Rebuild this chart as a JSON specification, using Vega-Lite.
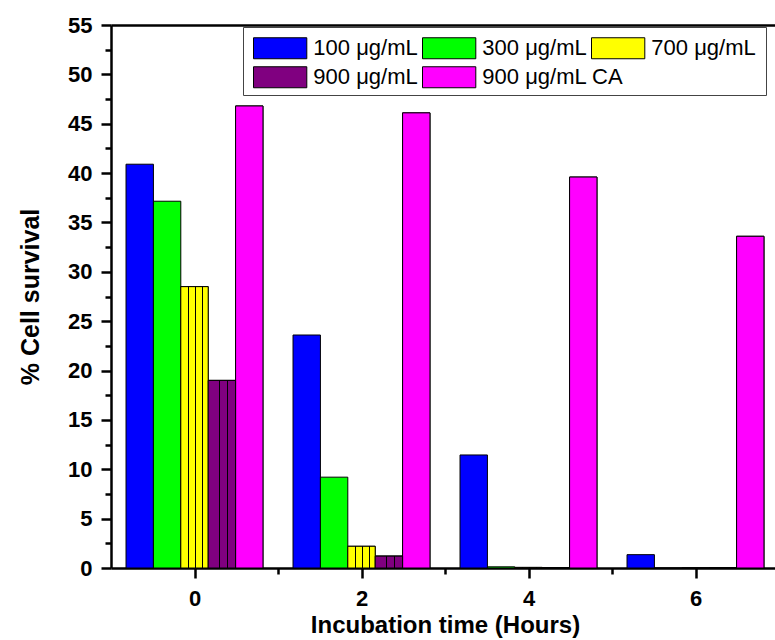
{
  "$schema": "https://vega.github.io/schema/vega-lite/v6.json",
  "width": 664,
  "height": 543,
  "autosize": {"type": "none"},
  "padding": {"left": 111, "top": 25, "right": 0, "bottom": 72},
  "background": "white",
  "config": {"view": {"stroke": null}, "font": "Liberation Sans"},
  "data": {
    "values": [
      {"time": 0, "conc": "100 μg/mL", "value": 40.9},
      {"time": 0, "conc": "300 μg/mL", "value": 37.15},
      {"time": 0, "conc": "700 μg/mL", "value": 28.5},
      {"time": 0, "conc": "900 μg/mL", "value": 19.0},
      {"time": 0, "conc": "900 μg/mL CA", "value": 46.8},
      {"time": 2, "conc": "100 μg/mL", "value": 23.6},
      {"time": 2, "conc": "300 μg/mL", "value": 9.2},
      {"time": 2, "conc": "700 μg/mL", "value": 2.2},
      {"time": 2, "conc": "900 μg/mL", "value": 1.2},
      {"time": 2, "conc": "900 μg/mL CA", "value": 46.1},
      {"time": 4, "conc": "100 μg/mL", "value": 11.45},
      {"time": 4, "conc": "300 μg/mL", "value": 0.12},
      {"time": 4, "conc": "700 μg/mL", "value": 0.06},
      {"time": 4, "conc": "900 μg/mL", "value": 0.0},
      {"time": 4, "conc": "900 μg/mL CA", "value": 39.6},
      {"time": 6, "conc": "100 μg/mL", "value": 1.35},
      {"time": 6, "conc": "300 μg/mL", "value": 0.0},
      {"time": 6, "conc": "700 μg/mL", "value": 0.0},
      {"time": 6, "conc": "900 μg/mL", "value": 0.0},
      {"time": 6, "conc": "900 μg/mL CA", "value": 33.6}
    ]
  },
  "layer": [
    {
      "encoding": {
        "x": {
          "field": "time",
          "type": "ordinal",
          "scale": {"range": [0, 668], "paddingInner": 0.18, "paddingOuter": 0.09},
          "axis": {"orient": "top", "labels": false, "ticks": false, "title": null, "domainColor": "black", "domainWidth": 2.5}
        },
        "xOffset": {
          "field": "conc",
          "type": "nominal",
          "scale": {"domain": ["100 μg/mL", "300 μg/mL", "700 μg/mL", "900 μg/mL", "900 μg/mL CA"], "paddingInner": 0, "paddingOuter": 0}
        },
        "y": {
          "field": "value",
          "type": "quantitative",
          "scale": {"domain": [0, 55], "nice": false},
          "axis": {
            "title": "% Cell survival",
            "titleFont": "Liberation Sans",
            "titleFontSize": 25,
            "titleFontWeight": "bold",
            "titleColor": "black",
            "titlePadding": 24,
            "grid": false,
            "values": [0, 2.5, 5, 7.5, 10, 12.5, 15, 17.5, 20, 22.5, 25, 27.5, 30, 32.5, 35, 37.5, 40, 42.5, 45, 47.5, 50, 52.5, 55],
            "labelExpr": "datum.value % 5 === 0 ? datum.label : ''",
            "labelFont": "Liberation Sans",
            "labelFontSize": 22,
            "labelFontWeight": "bold",
            "labelColor": "black",
            "labelPadding": 9,
            "labelFlush": false,
            "labelOverlap": false,
            "domainColor": "black",
            "domainWidth": 2.5,
            "tickColor": "black",
            "tickWidth": 2.5,
            "tickSize": {"condition": {"test": "datum.value % 5 === 0", "value": 10}, "value": 6}
          }
        }
      },
      "layer": [
        {
          "mark": {"type": "bar", "stroke": "black", "strokeWidth": 1, "opacity": 1},
          "encoding": {
            "color": {
              "field": "conc",
              "type": "nominal",
              "scale": {
                "domain": ["100 μg/mL", "300 μg/mL", "700 μg/mL", "900 μg/mL", "900 μg/mL CA"],
                "range": ["#0000FF", "#00FF00", "#FFFF00", "#800080", "#FF00FF"]
              },
              "legend": {
                "orient": "none",
                "legendX": 132,
                "legendY": 2,
                "values": ["100 μg/mL", "300 μg/mL", "700 μg/mL"],
                "title": " ",
                "titleOrient": "bottom",
                "titleFontSize": 22,
                "titlePadding": 3,
                "columns": 3,
                "direction": "horizontal",
                "symbolType": "M-2.538,-1H2.538V1H-2.538Z",
                "symbolSize": 441,
                "symbolOffset": 16.15,
                "symbolStrokeColor": "black",
                "symbolStrokeWidth": 1,
                "symbolOpacity": 1,
                "labelFont": "Liberation Sans",
                "labelFontSize": 22,
                "labelColor": "black",
                "labelLimit": 400,
                "labelOffset": 22.2,
                "columnPadding": 2,
                "padding": 10,
                "strokeColor": "#444444"
              }
            }
          }
        },
        {
          "transform": [{"filter": {"field": "conc", "oneOf": ["900 μg/mL", "900 μg/mL CA"]}}],
          "mark": {"type": "bar", "stroke": "black", "strokeWidth": 1, "opacity": 1},
          "encoding": {
            "fill": {
              "field": "conc",
              "type": "nominal",
              "scale": {"domain": ["900 μg/mL", "900 μg/mL CA"], "range": ["#800080", "#FF00FF"]},
              "legend": {
                "orient": "none",
                "legendX": 142,
                "legendY": 41,
                "title": null,
                "columns": 2,
                "direction": "horizontal",
                "symbolType": "M-2.538,-1H2.538V1H-2.538Z",
                "symbolSize": 441,
                "symbolOffset": 16.15,
                "symbolStrokeColor": "black",
                "symbolStrokeWidth": 1,
                "symbolOpacity": 1,
                "labelFont": "Liberation Sans",
                "labelFontSize": 22,
                "labelColor": "black",
                "labelLimit": 400,
                "labelOffset": 22.2,
                "columnPadding": 2,
                "padding": 0
              }
            }
          }
        },
        {
          "transform": [{"filter": {"field": "conc", "equal": "700 μg/mL"}}],
          "mark": {
            "type": "bar",
            "stroke": "black",
            "strokeWidth": 1,
            "fill": {
              "gradient": "linear", "x1": 0, "y1": 0, "x2": 1, "y2": 0,
              "stops": [
                {"offset": 0, "color": "#FFFF00"},
                {"offset": 0.255, "color": "#FFFF00"},
                {"offset": 0.255, "color": "#000000"},
                {"offset": 0.29, "color": "#000000"},
                {"offset": 0.29, "color": "#FFFF00"},
                {"offset": 0.515, "color": "#FFFF00"},
                {"offset": 0.515, "color": "#000000"},
                {"offset": 0.55, "color": "#000000"},
                {"offset": 0.55, "color": "#FFFF00"},
                {"offset": 0.775, "color": "#FFFF00"},
                {"offset": 0.775, "color": "#000000"},
                {"offset": 0.81, "color": "#000000"},
                {"offset": 0.81, "color": "#FFFF00"},
                {"offset": 1, "color": "#FFFF00"}
              ]
            }
          },
          "encoding": {}
        },
        {
          "transform": [{"filter": {"field": "conc", "equal": "900 μg/mL"}}],
          "mark": {
            "type": "bar",
            "stroke": "black",
            "strokeWidth": 1,
            "fill": {
              "gradient": "linear", "x1": 0, "y1": 0, "x2": 1, "y2": 0,
              "stops": [
                {"offset": 0, "color": "#800080"},
                {"offset": 0.39, "color": "#800080"},
                {"offset": 0.39, "color": "#000000"},
                {"offset": 0.425, "color": "#000000"},
                {"offset": 0.425, "color": "#800080"},
                {"offset": 0.68, "color": "#800080"},
                {"offset": 0.68, "color": "#000000"},
                {"offset": 0.715, "color": "#000000"},
                {"offset": 0.715, "color": "#800080"},
                {"offset": 1, "color": "#800080"}
              ]
            }
          },
          "encoding": {}
        }
      ]
    },
    {
      "mark": {"type": "rule", "opacity": 0},
      "encoding": {
        "x": {
          "field": "time",
          "type": "quantitative",
          "scale": {"domain": [-1, 7], "range": [0, 668], "nice": false, "zero": false},
          "axis": {
            "orient": "bottom",
            "title": "Incubation time (Hours)",
            "titleFont": "Liberation Sans",
            "titleFontSize": 24,
            "titleFontWeight": "bold",
            "titleColor": "black",
            "titlePadding": 4,
            "grid": false,
            "values": [1, 0, 2, 3, 4, 5, 6],
            "labelExpr": "datum.value % 2 === 0 ? datum.label : ''",
            "labelFont": "Liberation Sans",
            "labelFontSize": 22,
            "labelFontWeight": "bold",
            "labelColor": "black",
            "labelPadding": 10,
            "labelFlush": false,
            "labelOverlap": false,
            "domainColor": "black",
            "domainWidth": 2.5,
            "tickColor": "black",
            "tickWidth": 2.5,
            "tickSize": {"condition": {"test": "datum.value % 2 === 0", "value": 10}, "value": 6}
          }
        }
      }
    }
  ],
  "resolve": {"scale": {"x": "independent"}}
}
